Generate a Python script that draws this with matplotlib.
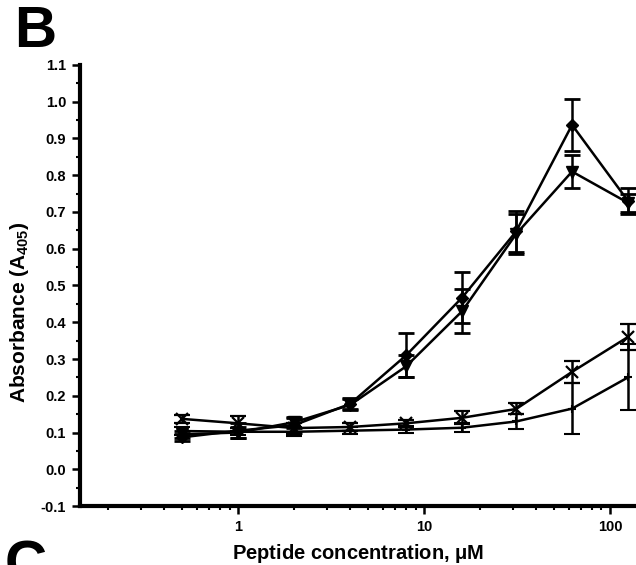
import matplotlib as mpl
import numpy as np
import matplotlib.pyplot as plt

plt.rcParams['font.family'] = ['Liberation Sans', 'DejaVu Sans']
plt.rcParams['font.weight'] = 'bold'
plt.rcParams['mathtext.fontset'] = 'custom'
plt.rcParams['mathtext.rm'] = 'Liberation Sans:bold'
plt.rcParams['mathtext.bf'] = 'Liberation Sans:bold'
plt.rcParams['mathtext.it'] = 'Liberation Sans:bold'

# peptide concentration (uM)
conc = [0.5, 1, 2, 4, 8, 16, 31.25, 62.5, 125]

# filled diamonds
diam = [0.087, 0.105, 0.12, 0.178, 0.31, 0.467, 0.647, 0.937, 0.73]
diam_err = [0.01, 0.02, 0.02, 0.015, 0.06, 0.07, 0.055, 0.07, 0.035]

# filled triangles
tri = [0.095, 0.10, 0.128, 0.175, 0.28, 0.43, 0.64, 0.81, 0.725]
tri_err = [0.01, 0.015, 0.015, 0.015, 0.03, 0.06, 0.055, 0.045, 0.025]

# crosses
cross = [0.137, 0.125, 0.112, 0.115, 0.125, 0.14, 0.164, 0.265, 0.36]
cross_err = [0.01, 0.02, 0.015, 0.01, 0.01, 0.018, 0.015, 0.03, 0.035]

# plus
plus = [0.104, 0.102, 0.102, 0.105, 0.108, 0.113, 0.13, 0.165, 0.25]
plus_err = [0.01, 0.01, 0.012, 0.01, 0.01, 0.012, 0.02, 0.07, 0.09]

fig = plt.figure(figsize=(6.36, 5.65), dpi=100)
ax = fig.add_axes([0.126, 0.1044, 0.874, 0.7806])

kw = dict(color='black', lw=1.8, capsize=6, capthick=2, elinewidth=1.8)
ax.errorbar(conc, plus, yerr=plus_err, marker='+', ms=6, mew=1.5, **kw)
ax.errorbar(conc, cross, yerr=cross_err, marker='x', ms=8, mew=1.6, **kw)
ax.errorbar(conc, tri, yerr=tri_err, marker='v', ms=8, **kw)
ax.errorbar(conc, diam, yerr=diam_err, marker='D', ms=6.5, **kw)

ax.set_xscale('log')
ax.set_xlim(0.141, 138)
ax.set_ylim(-0.1, 1.1)
ax.set_yticks(np.arange(-0.1, 1.11, 0.1))
ax.set_yticklabels(['%.1f' % v for v in np.arange(-0.1, 1.11, 0.1)])
ax.yaxis.set_minor_locator(mpl.ticker.MultipleLocator(0.05))
ax.set_xticks([1, 10, 100])
ax.set_xticklabels(['1', '10', '100'])

for s in ['top', 'right']:
    ax.spines[s].set_visible(False)
for s in ['left', 'bottom']:
    ax.spines[s].set_linewidth(3)

ax.tick_params(which='major', direction='out', length=6, width=1.8, labelsize=10.5, pad=4)
ax.tick_params(which='minor', direction='out', length=3, width=1.5)

ax.set_xlabel('Peptide concentration, $\\mu$M', fontsize=14.5, fontweight='bold', labelpad=6)
ax.set_ylabel('Absorbance (A$_{405}$)', fontsize=15, fontweight='bold')
ax.yaxis.set_label_coords(-0.088, 0.44)

fig.text(0.022, 0.992, 'B', fontsize=42, fontweight='bold', va='top', ha='left')
fig.text(0.008, 0.045, 'C', fontsize=42, fontweight='bold', va='top', ha='left')

plt.savefig('out.png', dpi=100)
